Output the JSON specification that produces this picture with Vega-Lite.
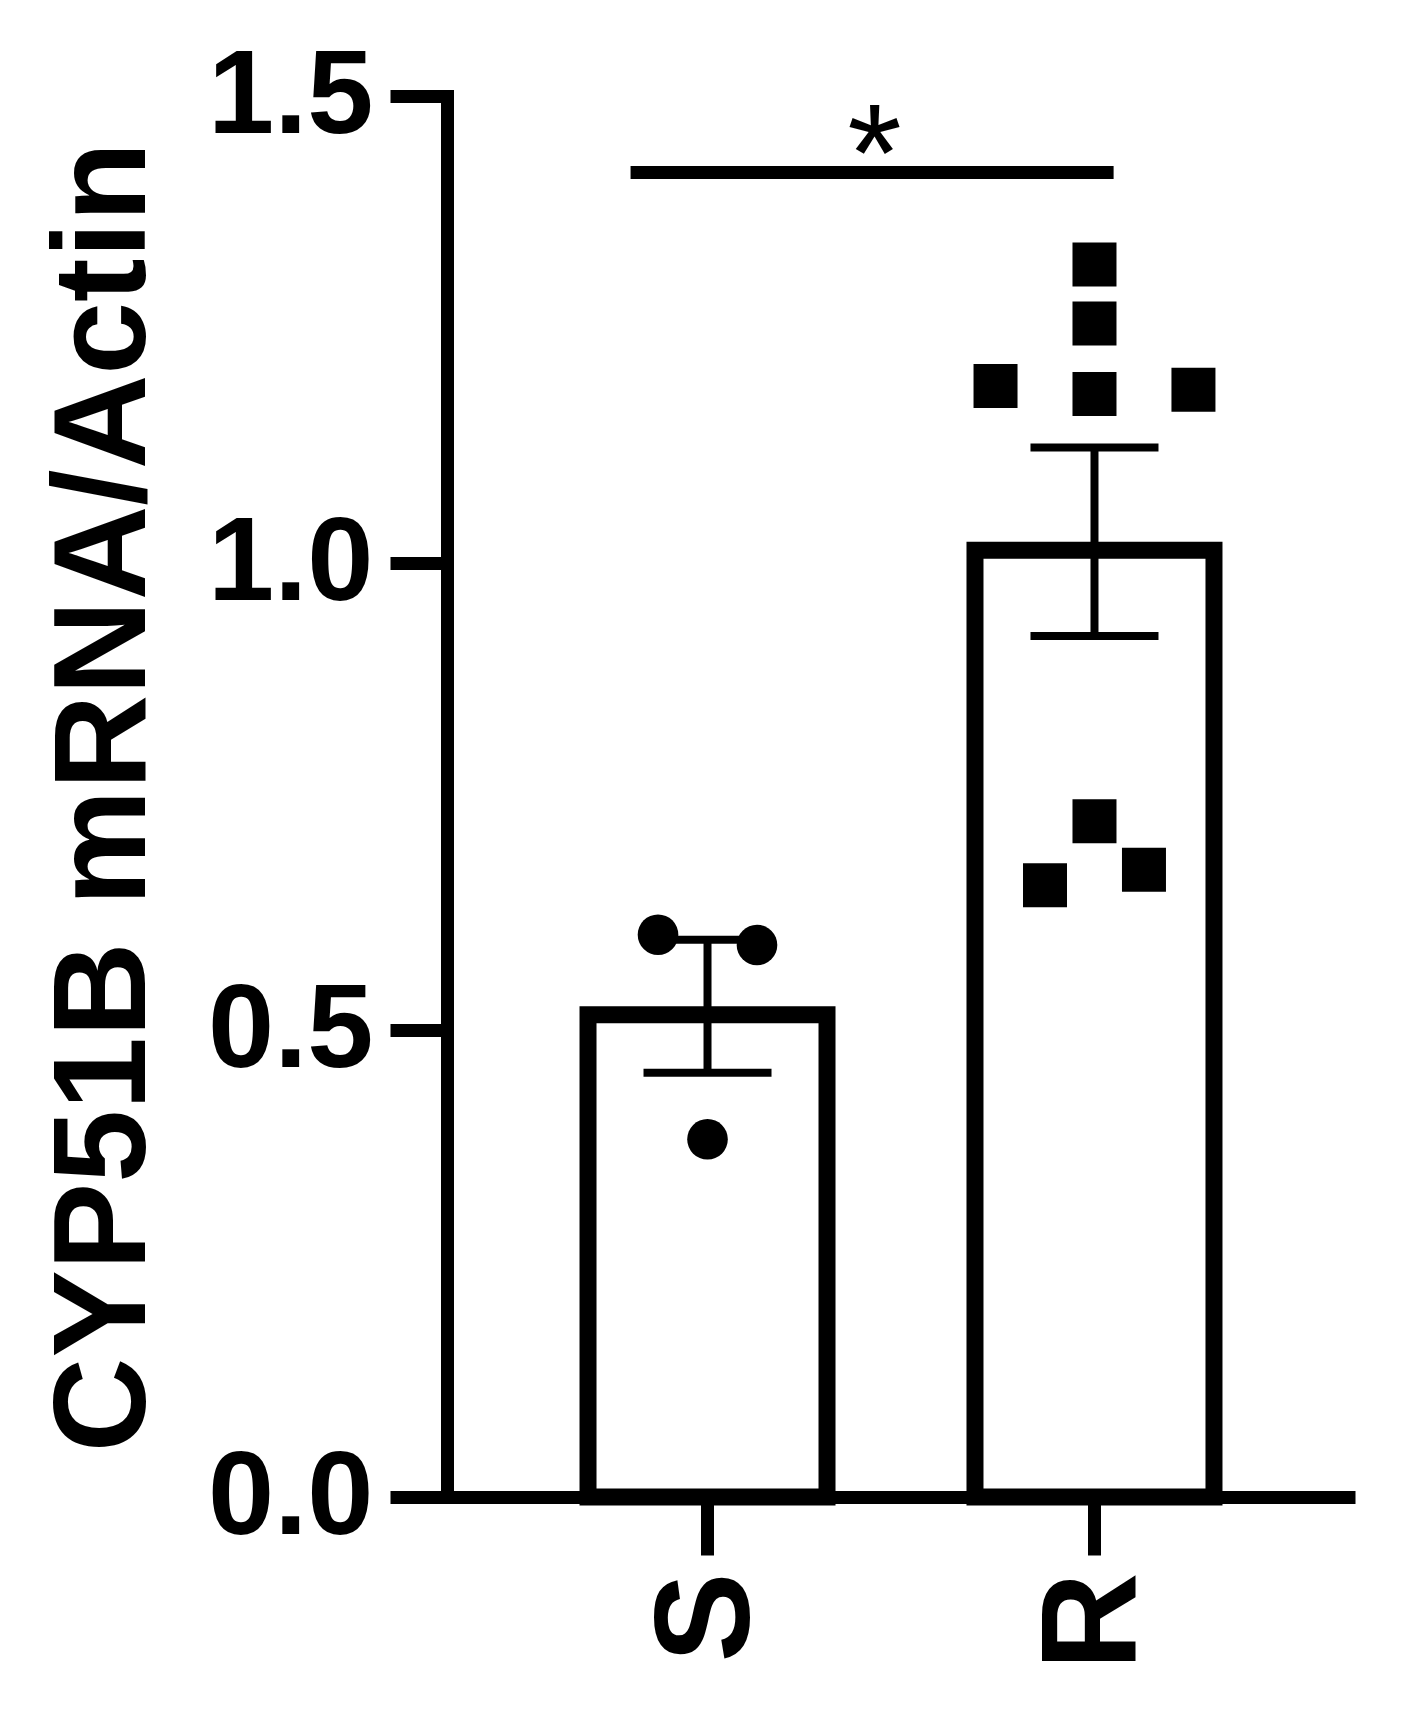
{
  "$schema": "https://vega.github.io/schema/vega-lite/v6.json",
  "autosize": {"type": "none"},
  "padding": {"left": 447, "top": 96, "right": 49, "bottom": 218},
  "width": 908,
  "height": 1401,
  "background": "white",
  "config": {
    "view": {"stroke": null},
    "font": "Liberation Sans"
  },
  "datasets": {
    "points": [
      {"group": "S", "slot": "m1", "value": 0.602},
      {"group": "S", "slot": "p1", "value": 0.591},
      {"group": "S", "slot": "c0", "value": 0.383},
      {"group": "R", "slot": "c0", "value": 1.3195},
      {"group": "R", "slot": "c0", "value": 1.2563},
      {"group": "R", "slot": "m2", "value": 1.1895},
      {"group": "R", "slot": "c0", "value": 1.1809},
      {"group": "R", "slot": "p2", "value": 1.1856},
      {"group": "R", "slot": "c0", "value": 0.7234},
      {"group": "R", "slot": "m1", "value": 0.655},
      {"group": "R", "slot": "p1", "value": 0.6717}
    ],
    "annotation": [
      {"from": "S", "to": "R", "y": 1.418, "star_y": 1.388, "label": "*"}
    ]
  },
  "resolve": {"scale": {"xOffset": "independent"}},
  "layer": [
    {
      "data": {"name": "points"},
      "mark": {"type": "bar", "fill": "white", "stroke": "black", "strokeWidth": 17, "strokeJoin": "miter", "yOffset": 8.5},
      "encoding": {
        "x": {"field": "group", "type": "nominal",
              "scale": {"domain": ["S", "R"], "paddingInner": 0.3824, "paddingOuter": 0.3644},
              "axis": {"title": null, "domainWidth": 13, "domainColor": "black", "tickWidth": 13, "tickSize": 58, "tickColor": "black",
                       "labelAngle": 270, "labelFontSize": 135, "labelFontWeight": "bold", "labelPadding": 17, "labelColor": "black"}},
        "y": {"aggregate": "mean", "field": "value", "type": "quantitative",
              "title": "CYP51B mRNA/Actin",
              "scale": {"domain": [0, 1.5], "nice": false},
              "axis": {"values": [0, 0.5, 1, 1.5], "format": ".1f", "grid": false,
                       "domainWidth": 13, "domainColor": "black", "domainCap": "square",
                       "tickWidth": 13, "tickSize": 57, "tickColor": "black",
                       "labelFontSize": 119, "labelFontWeight": "bold", "labelPadding": 17, "labelColor": "black",
                       "titleFontSize": 131, "titleFontWeight": "bold", "titlePadding": 75, "titleColor": "black"}}
      }
    },
    {
      "data": {"name": "points"},
      "mark": {"type": "errorbar", "extent": "stderr", "color": "black", "opacity": 1,
               "rule": {"strokeWidth": 8, "color": "black", "opacity": 1},
               "ticks": {"size": 128, "thickness": 8, "color": "black", "opacity": 1}},
      "encoding": {
        "x": {"field": "group", "type": "nominal"},
        "y": {"field": "value", "type": "quantitative", "title": "CYP51B mRNA/Actin"}
      }
    },
    {
      "data": {"name": "points"},
      "transform": [{"filter": "datum.group === 'S'"}],
      "mark": {"type": "point", "shape": "circle", "filled": true, "color": "black", "opacity": 1, "size": 1650},
      "encoding": {
        "x": {"field": "group", "type": "nominal"},
        "xOffset": {"field": "slot", "type": "nominal",
                    "scale": {"domain": ["m2", "m1", "c0", "p1", "p2"], "paddingInner": 0, "paddingOuter": 0.415}},
        "y": {"field": "value", "type": "quantitative", "title": "CYP51B mRNA/Actin"}
      }
    },
    {
      "data": {"name": "points"},
      "transform": [{"filter": "datum.group === 'R'"}],
      "mark": {"type": "point", "shape": "square", "filled": true, "color": "black", "opacity": 1, "size": 1936},
      "encoding": {
        "x": {"field": "group", "type": "nominal"},
        "xOffset": {"field": "slot", "type": "nominal",
                    "scale": {"domain": ["m2", "m1", "c0", "p1", "p2"], "paddingInner": 0, "paddingOuter": 0.415}},
        "y": {"field": "value", "type": "quantitative", "title": "CYP51B mRNA/Actin"}
      }
    },
    {
      "data": {"name": "annotation"},
      "mark": {"type": "rule", "strokeWidth": 13, "color": "black"},
      "encoding": {
        "x": {"field": "from", "type": "nominal", "bandPosition": 0.178},
        "x2": {"field": "to", "bandPosition": 0.58},
        "y": {"field": "y", "type": "quantitative", "title": "CYP51B mRNA/Actin"}
      }
    },
    {
      "data": {"name": "annotation"},
      "mark": {"type": "text", "fontSize": 140, "font": "Liberation Sans", "color": "black", "align": "center", "baseline": "alphabetic"},
      "encoding": {
        "x": {"field": "from", "type": "nominal", "bandPosition": 1.199},
        "y": {"field": "star_y", "type": "quantitative", "title": "CYP51B mRNA/Actin"},
        "text": {"field": "label"}
      }
    }
  ]
}
